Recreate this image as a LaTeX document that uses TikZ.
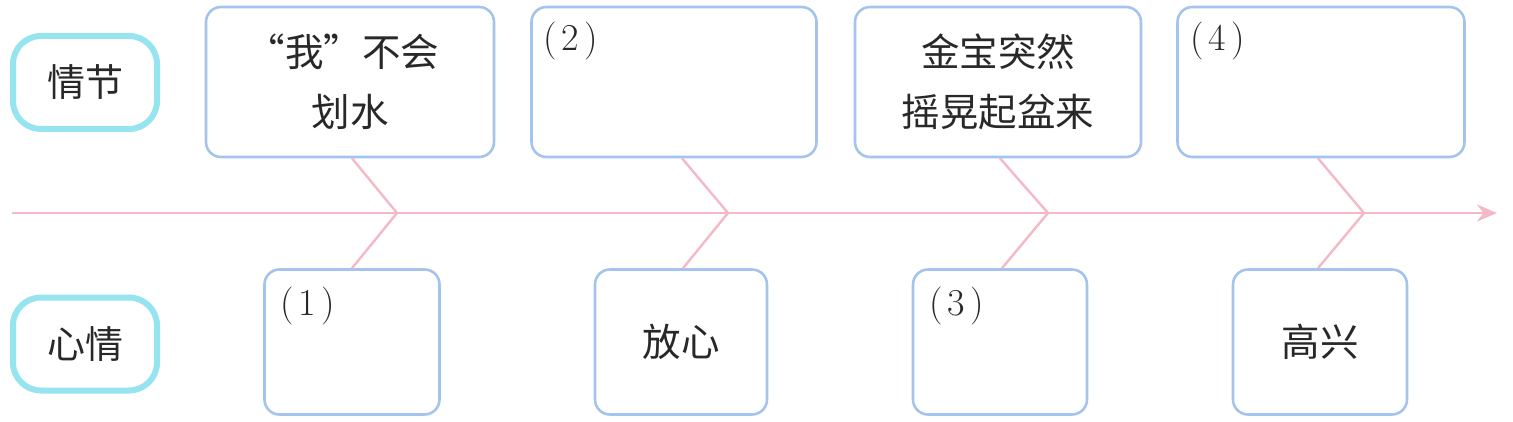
\documentclass[tikz,border=0pt]{standalone}
\usepackage{fontspec}
\newfontfamily\cjk{Noto Sans CJK SC}
\usetikzlibrary{arrows.meta}
\definecolor{boxblue}{RGB}{165,196,236}
\definecolor{pinkline}{RGB}{244,184,198}
\definecolor{cyanb}{RGB}{150,228,240}
\definecolor{txt}{RGB}{40,40,40}
\tikzset{
  plotbox/.style={draw=boxblue, line width=2.6pt, rounded corners=15pt, inner sep=0pt, align=center, text=txt, font=\cjk\fontsize{38.5}{60}\selectfont},
  lblbox/.style={draw=cyanb, line width=6pt, rounded corners=28pt, minimum width=144pt, minimum height=93pt, inner sep=0pt, text=txt, font=\cjk\fontsize{38}{44}\selectfont},
  num/.style={anchor=west, inner sep=0pt, text=txt, font=\fontsize{38}{44}\selectfont},
  bone/.style={draw=pinkline, line width=2.4pt},
  axisline/.style={draw=pinkline, line width=2.6pt, -{Stealth[length=20pt, width=17pt]}}
}
\begin{document}
\begin{tikzpicture}[x=1pt, y=-1pt]
\useasboundingbox (0,0) rectangle (1513,422);
% labels
\node[lblbox] (l1) at (85,82.5) {情节};
\node[lblbox] (l2) at (85,344) {心情};
% axis
\coordinate (s) at (12,213);
\coordinate (e) at (1497,213);
\coordinate (j1) at (397,213);
\coordinate (j2) at (728,213);
\coordinate (j3) at (1048,213);
\coordinate (j4) at (1364,213);
\draw[axisline] (s) -- (e);
% top boxes
\node[plotbox, minimum width=288pt, minimum height=150pt] (p1) at (350,82) {\hspace*{-14pt}“我”不会\\划水};
\node[plotbox, minimum width=285pt, minimum height=150pt] (p2) at (674,82) {};
\node[plotbox, minimum width=286pt, minimum height=150pt] (p3) at (998,82) {金宝突然\\摇晃起盆来};
\node[plotbox, minimum width=287pt, minimum height=150pt] (p4) at (1321,82) {};
\node[num] (n2) at (543,41) {(\kern5pt 2\kern5pt)};
\node[num] (n4) at (1190,41) {(\kern5pt 4\kern5pt)};
% bottom boxes
\node[plotbox, minimum width=175pt, minimum height=145pt] (m1) at (352,342) {};
\node[plotbox, minimum width=172pt, minimum height=145pt] (m2) at (681,342) {放心};
\node[plotbox, minimum width=174pt, minimum height=145pt] (m3) at (1000,342) {};
\node[plotbox, minimum width=174pt, minimum height=145pt] (m4) at (1320,342) {高兴};
\node[num] (n1) at (280,306) {(\kern5pt 1\kern5pt)};
\node[num] (n3) at (929,306) {(\kern5pt 3\kern5pt)};
% bones
\draw[bone] ([xshift=-45pt]j1 |- p1.south) -- (j1) -- ([xshift=-45pt]j1 |- m1.north);
\draw[bone] ([xshift=-46pt]j2 |- p2.south) -- (j2) -- ([xshift=-45pt]j2 |- m2.north);
\draw[bone] ([xshift=-48pt]j3 |- p3.south) -- (j3) -- ([xshift=-46pt]j3 |- m3.north);
\draw[bone] ([xshift=-46pt]j4 |- p4.south) -- (j4) -- ([xshift=-46pt]j4 |- m4.north);
\end{tikzpicture}
\end{document}
